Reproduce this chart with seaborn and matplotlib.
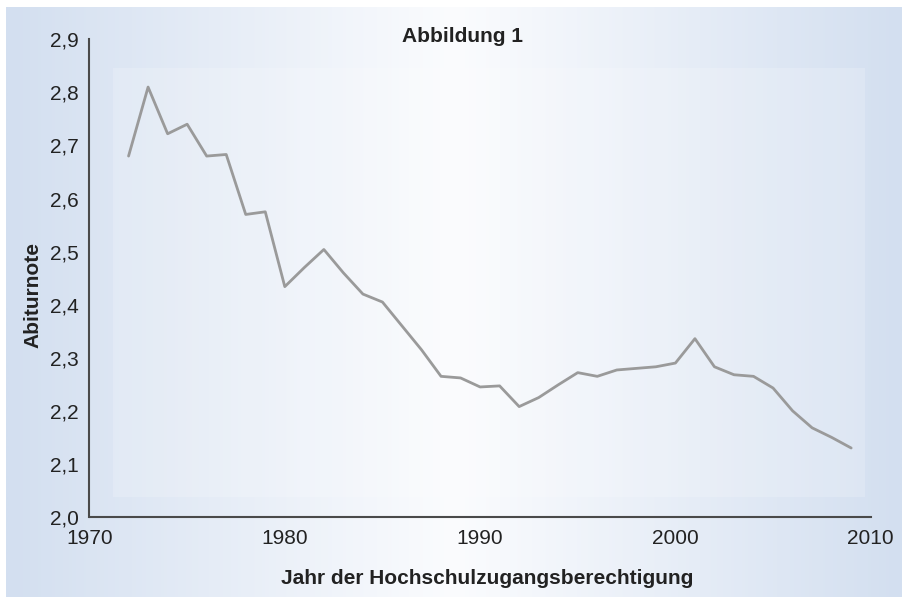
import numpy as np
import pandas as pd
import matplotlib
matplotlib.use("Agg")
import matplotlib.pyplot as plt
import seaborn as sns
from matplotlib.colors import LinearSegmentedColormap
from matplotlib.ticker import FuncFormatter

years = list(range(1972, 2010))
abiturnote = [2.68, 2.81, 2.722, 2.74, 2.68, 2.683, 2.57, 2.575, 2.434, 2.47,
              2.504, 2.46, 2.42, 2.405, 2.36, 2.315, 2.265, 2.262, 2.245, 2.247,
              2.208, 2.225, 2.249, 2.272, 2.265, 2.277, 2.28, 2.283, 2.29, 2.336,
              2.283, 2.268, 2.265, 2.243, 2.2, 2.168, 2.15, 2.13]
x_ticks = [1970, 1980, 1990, 2000, 2010]
y_ticks = [2.0, 2.1, 2.2, 2.3, 2.4, 2.5, 2.6, 2.7, 2.8, 2.9]

df = pd.DataFrame({"Jahr": years, "Abiturnote": abiturnote})

sns.set_style("white")
plt.rcParams["font.family"] = ["Liberation Sans", "DejaVu Sans"]

W, H = 903, 601
fig = plt.figure(figsize=(W / 100, H / 100), dpi=100)
fig.patch.set_facecolor("white")

# background gradient panel
bg = fig.add_axes([6 / W, 4 / H, (W - 6) / W, (H - 11) / H])
cmap = LinearSegmentedColormap.from_list(
    "bg", [(0.0, "#d3dff0"), (0.5, "#fbfcfe"), (1.0, "#d3dff0")])
grad = np.linspace(0, 1, 512).reshape(1, -1)
bg.imshow(grad, aspect="auto", cmap=cmap, extent=[0, 1, 0, 1])
x0, x1 = (113 - 6) / (W - 6), (865 - 6) / (W - 6)
y0, y1 = 1 - (497 - 7) / (H - 11), 1 - (68 - 7) / (H - 11)
bg.add_patch(plt.Rectangle((x0, y0), x1 - x0, y1 - y0, color="white",
                           alpha=0.18, lw=0))
bg.set_xlim(0, 1)
bg.set_ylim(0, 1)
bg.axis("off")

left, right = 89.5, 870.7
bottom, top = 517.0, 39.3
ax = fig.add_axes([left / W, 1 - bottom / H, (right - left) / W, (bottom - top) / H])
ax.set_facecolor("none")

sns.lineplot(data=df, x="Jahr", y="Abiturnote", ax=ax, color="#9a9a9a",
             linewidth=2.0, solid_joinstyle="round", solid_capstyle="round")

ax.set_xlim(1970, 2010)
ax.set_ylim(2.0, 2.9)
ax.set_xticks(x_ticks)
ax.set_yticks(y_ticks)
ax.yaxis.set_major_formatter(FuncFormatter(lambda v, p: f"{v:.1f}".replace(".", ",")))
ax.xaxis.set_major_formatter(FuncFormatter(lambda v, p: f"{int(round(v))}"))

for s in ["top", "right"]:
    ax.spines[s].set_visible(False)
for s in ["left", "bottom"]:
    ax.spines[s].set_color("#4a4a4a")
    ax.spines[s].set_linewidth(1.5)

ax.tick_params(axis="both", which="major", direction="out", length=5.5, width=1.3,
               color="#4a4a4a", labelsize=15, labelcolor="#222222")
ax.tick_params(axis="y", pad=2)
ax.tick_params(axis="x", pad=3)

ax.set_xlabel("Jahr der Hochschulzugangsberechtigung", fontsize=15,
              fontweight="bold", color="#222222")
ax.set_ylabel("Abiturnote", fontsize=15, fontweight="bold", color="#222222")
ax.xaxis.set_label_coords((487 - left) / (right - left), -(578 - bottom) / (bottom - top))
ax.yaxis.set_label_coords(-(left - 33) / (right - left), (bottom - 295) / (bottom - top))
ax.xaxis.label.set_va("center")
ax.yaxis.label.set_va("center")

fig.text(463 / W, 1 - 37 / H, "Abbildung 1", ha="center", va="center",
         fontsize=15, fontweight="bold", color="#222222")

fig.savefig("out.png", dpi=100)
